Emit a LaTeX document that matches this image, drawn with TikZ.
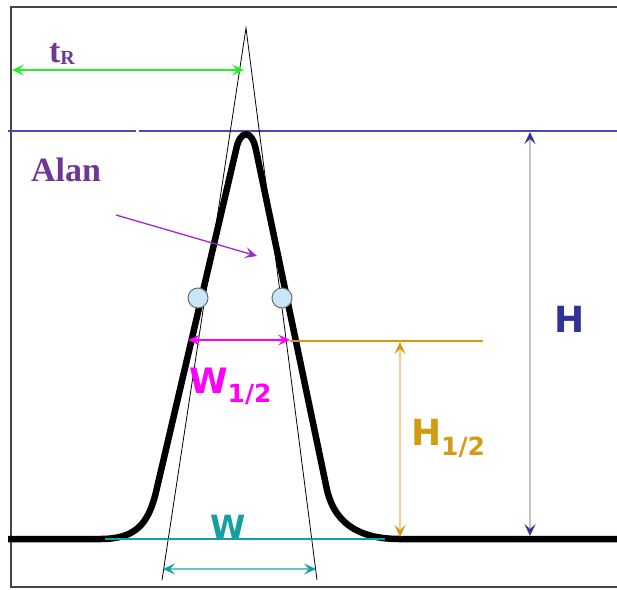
\documentclass[tikz,border=0pt]{standalone}
\usepackage{fontspec}
\newfontfamily\lsans{DejaVu Sans}
\newfontfamily\lserif{Liberation Serif}
\usetikzlibrary{arrows.meta}
\definecolor{framegray}{RGB}{70,70,70}
\definecolor{txtpurple}{RGB}{110,55,150}
\definecolor{alanarrow}{RGB}{160,40,210}
\definecolor{tgreen}{RGB}{40,240,40}
\definecolor{hline}{RGB}{75,75,175}
\definecolor{hblue}{RGB}{50,50,150}
\definecolor{hshaft}{RGB}{195,195,195}
\definecolor{wmag}{RGB}{255,0,255}
\definecolor{gold}{RGB}{210,155,20}
\definecolor{lorange}{RGB}{255,200,150}
\definecolor{teal2}{RGB}{20,160,160}
\definecolor{lteal}{RGB}{100,200,200}
\definecolor{cfill}{RGB}{200,230,245}
\definecolor{cedge}{RGB}{100,110,120}
\tikzset{
  myhead/.tip={Stealth[length=12pt,width=11pt,inset=5pt]},
  goldhead/.tip={Stealth[length=12pt,width=11pt,inset=5pt,color=gold]},
  bluehead/.tip={Stealth[length=12pt,width=11pt,inset=5pt,color=hblue]},
  tealhead/.tip={Stealth[length=12pt,width=11pt,inset=5pt,color=teal2]},
  frameline/.style={draw=framegray,line width=1.8pt},
  peakline/.style={draw=black,line width=6.5pt,line join=round},
  tangent/.style={draw=black,line width=0.8pt},
  lab/.style={anchor=base west,inner sep=0pt,outer sep=0pt},
  dot/.style={circle,draw=cedge,fill=cfill,line width=1pt,minimum size=20pt,inner sep=0pt}
}
\begin{document}
\begin{tikzpicture}[x=1pt,y=-1pt]
\useasboundingbox (0,0) rectangle (617,589);
% frame
\draw[frameline] (620,7) -- (11,7) -- (11,587) -- (620,587);
% top blue line
\draw[hline,line width=1.2pt] (8,131) -- (136,131);
\draw[hline,line width=1.2pt] (139,131) -- (620,131);
% coordinates
\coordinate (apex) at (246,28);
\coordinate (tanL) at (162,580);
\coordinate (tanR) at (317,580);
\coordinate (tRL) at (12,70);
\coordinate (tRR) at (244,70);
\coordinate (alanS) at (116,215);
\coordinate (alanE) at (257,256);
\coordinate (w12L) at (188,340);
\coordinate (w12R) at (290,340);
\coordinate (h12a) at (290,341);
\coordinate (h12b) at (483,341);
\coordinate (h12t) at (400,342);
\coordinate (h12bot) at (400,537);
\coordinate (Ht) at (530,132);
\coordinate (Hb) at (530,536);
\coordinate (wL) at (163,569);
\coordinate (wR) at (316,569);
\coordinate (tealL) at (105,539);
\coordinate (tealR) at (385,539);
% tangents
\draw[tangent] (tanL) -- (apex) -- (tanR);
% peak
\draw[peakline] (8,539) -- (100,539) .. controls (135,539) and (148,525) .. (156,492)
  -- (236,150) .. controls (240,129) and (252,129) .. (256,150)
  -- (327,490) .. controls (336,528) and (365,539) .. (400,539) -- (620,539);
% teal baseline
\draw[teal2,line width=1.2pt] (tealL) -- (tealR);
% circles
\node[dot] (c1) at (198,298) {};
\node[dot] (c2) at (282,298) {};
% tR arrow
\draw[tgreen,line width=1.6pt,myhead-myhead] (tRL) -- (tRR);
\node[lab,text=txtpurple] (tR) at (49,62) {\lserif\bfseries\fontsize{34}{34}\selectfont t\raisebox{-2pt}{\fontsize{20}{20}\selectfont R}};
% Alan
\node[lab,text=txtpurple] (alan) at (31,181) {\lserif\bfseries\fontsize{34}{34}\selectfont Alan};
\draw[alanarrow,line width=1.3pt,-myhead] (alanS) -- (alanE);
% W1/2
\draw[wmag,line width=1.3pt,myhead-myhead] (w12L) -- (w12R);
\node[lab,text=wmag] (w12) at (189,393) {\lsans\bfseries\fontsize{35}{35}\selectfont W\raisebox{-9pt}{\fontsize{25}{25}\selectfont 1/2}};
% H1/2
\draw[gold,line width=1.3pt] (h12a) -- (h12b);
\draw[lorange,line width=1.8pt,goldhead-goldhead] (h12t) -- (h12bot);
\node[lab,text=gold] (h12) at (411,445) {\lsans\bfseries\fontsize{36}{36}\selectfont H\raisebox{-10pt}{\fontsize{25}{25}\selectfont 1/2}};
% H
\draw[hshaft,line width=2.6pt,bluehead-bluehead] (Ht) -- (Hb);
\node[lab,text=hblue] (H) at (554,332) {\lsans\bfseries\fontsize{36}{36}\selectfont H};
% W
\draw[lteal,line width=1.8pt,tealhead-tealhead] (wL) -- (wR);
\node[lab,text=teal2] (W) at (210,538) {\lsans\bfseries\fontsize{32}{32}\selectfont W};
\end{tikzpicture}
\end{document}
